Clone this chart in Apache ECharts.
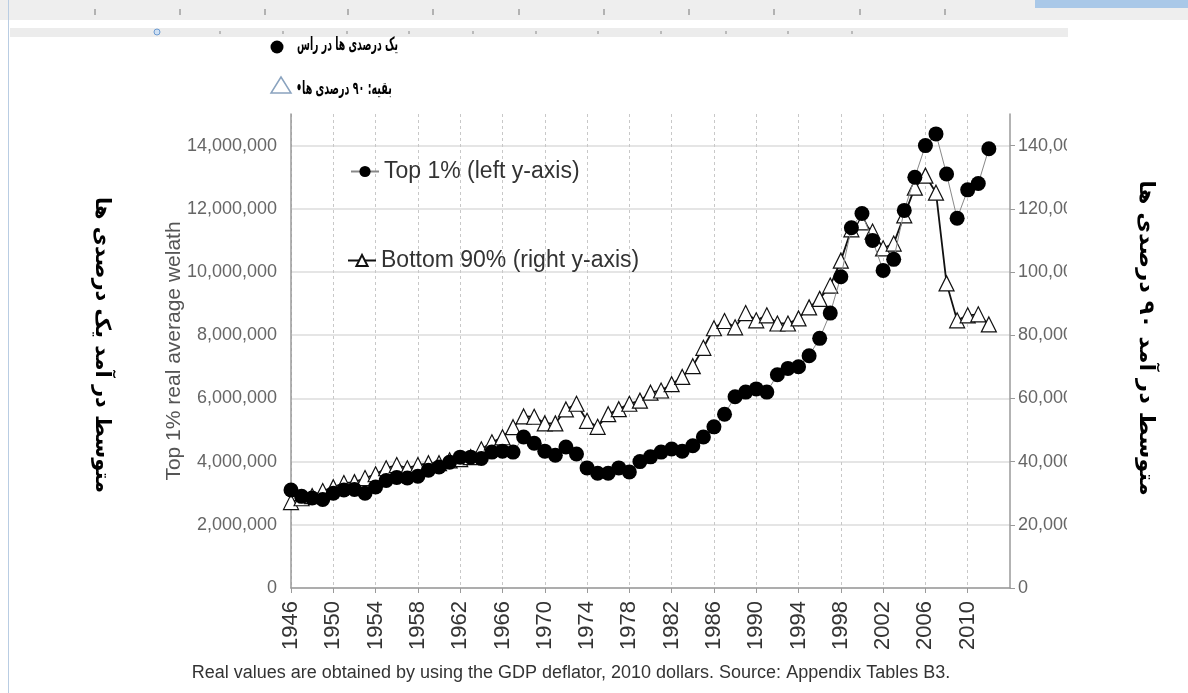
<!DOCTYPE html>
<html lang="en">
<head>
    <meta charset="UTF-8">
    <title>Top 1% vs Bottom 90% real average wealth</title>
    <script src="https://cdn.jsdelivr.net/npm/echarts@6/dist/echarts.min.js"></script>
    <style>
        *{
            margin: 0;
            padding: 0;
        }
        body{
            background: #fff;
        }
        #chart{
            width: 1188px;
            height: 693px;
        }
    </style>
</head>
<body>
    <div id="chart"></div>
    <script type="text/javascript">
        // years on the x axis (axis runs two years past the data)
        var years = ['1946','1947','1948','1949','1950','1951','1952','1953','1954','1955',
            '1956','1957','1958','1959','1960','1961','1962','1963','1964','1965',
            '1966','1967','1968','1969','1970','1971','1972','1973','1974','1975',
            '1976','1977','1978','1979','1980','1981','1982','1983','1984','1985',
            '1986','1987','1988','1989','1990','1991','1992','1993','1994','1995',
            '1996','1997','1998','1999','2000','2001','2002','2003','2004','2005',
            '2006','2007','2008','2009','2010','2011','2012','2013','2014'];

        // top 1% average wealth, left axis
        var top1 = [3100000,2900000,2850000,2800000,3000000,3100000,3120000,3000000,3200000,3400000,
            3500000,3480000,3540000,3730000,3830000,3980000,4140000,4140000,4100000,4300000,
            4330000,4300000,4780000,4580000,4330000,4200000,4460000,4240000,3800000,3630000,
            3630000,3800000,3670000,4000000,4150000,4300000,4400000,4330000,4500000,4780000,
            5100000,5500000,6050000,6200000,6300000,6200000,6750000,6950000,7000000,7350000,
            7900000,8700000,9850000,11400000,11850000,11000000,10050000,10400000,11950000,13000000,
            14000000,14370000,13100000,11700000,12600000,12800000,13900000];

        // bottom 90% average wealth, right axis
        var bottom90 = [27200,28400,29100,30700,31900,33200,33500,34800,36000,37900,
            38900,37900,38900,39500,39500,40400,40800,41400,43900,46100,
            47700,50900,54300,54200,52100,52100,56500,58300,52900,51000,
            55000,56600,58300,59300,61800,62500,64500,66800,70200,76000,
            82200,84500,82500,87000,84700,86300,83700,83700,85300,88800,
            91500,95700,103600,113500,115700,112800,107500,109000,117900,126700,
            130500,125100,96400,84700,86300,86600,83400];

        var topName = 'Top 1% (left y-axis)';
        var bottomName = 'Bottom 90% (right y-axis)';
        var note = 'Real values are obtained by using the GDP deflator, 2010 dollars. Source: Appendix Tables B3.';

        // tick marks of the window rulers above the chart
        var rulerTicks = [95, 180, 265, 348, 433, 519, 604, 689, 774, 860, 945];
        var rulerTicks2 = [220, 283, 347, 409, 473, 536, 598, 661, 726, 788, 852];

        var chart = echarts.init(document.getElementById('chart'));

        function everyFour(index){
            return index % 4 === 0 && index <= 64;
        }

        function fmt(v){
            return v.toLocaleString('en-US');
        }

        var faFont = 'bold 18px "DejaVu Sans"';
        var faBig = 'bold 21px "DejaVu Sans"';

        var graphics = [
            // clip of the right tick labels
            { type: 'rect', z: 100, shape: { x: 1067, y: 110, width: 40, height: 490 }, style: { fill: '#fff' } },
            // window ruler strips at the top
            { type: 'rect', z: 100, shape: { x: 0, y: 0, width: 1188, height: 20 }, style: { fill: '#eeeeee' } },
            { type: 'rect', z: 101, shape: { x: 1035, y: 0, width: 153, height: 8 }, style: { fill: '#a9c8e8' } },
            { type: 'rect', z: 100, shape: { x: 10, y: 28, width: 1058, height: 9 }, style: { fill: '#ececec' } },
            { type: 'rect', z: 100, shape: { x: 8, y: 0, width: 1, height: 693 }, style: { fill: '#b9cde3' } },
            { type: 'circle', z: 101, shape: { cx: 157, cy: 32, r: 3 }, style: { fill: '#cfe0f3', stroke: '#6d9bd1' } },
            // persian legend at the top
            { type: 'circle', z: 100, shape: { cx: 277, cy: 47, r: 6.5 }, style: { fill: '#000' } },
            { type: 'text', z: 100, x: 297, y: 45, scaleX: 0.52, style: { text: 'یک درصدی ها در راس', font: faFont, fill: '#000', align: 'left', verticalAlign: 'middle' } },
            { type: 'polygon', z: 100, shape: { points: [[281, 77], [271, 93], [291, 93]] }, style: { fill: '#fff', stroke: '#8aa3bf', lineWidth: 1.5 } },
            { type: 'text', z: 100, x: 296, y: 89, scaleX: 0.53, style: { text: '•بقیه: ۹۰ درصدی ها', font: faFont, fill: '#000', align: 'left', verticalAlign: 'middle' } },
            // persian axis titles
            { type: 'text', z: 100, x: 101, y: 345, rotation: -Math.PI / 2, style: { text: 'متوسط در آمد یک درصدی ها', font: faBig, fill: '#000', align: 'center', verticalAlign: 'middle' } },
            { type: 'text', z: 100, x: 1145, y: 338, rotation: -Math.PI / 2, scaleX: 1.08, style: { text: 'متوسط در آمد ۹۰ درصدی ها', font: faBig, fill: '#000', align: 'center', verticalAlign: 'middle' } },
            // source note
            { type: 'text', z: 100, x: 571, y: 673, style: { text: note, font: '18px "Liberation Sans", Arial, sans-serif', fill: '#333', align: 'center', verticalAlign: 'middle' } }
        ];
        rulerTicks.forEach(function(x){
            graphics.push({ type: 'line', z: 101, shape: { x1: x, y1: 9, x2: x, y2: 15 }, style: { stroke: '#777', lineWidth: 1 } });
        });
        rulerTicks2.forEach(function(x){
            graphics.push({ type: 'line', z: 101, shape: { x1: x, y1: 31, x2: x, y2: 34 }, style: { stroke: '#888', lineWidth: 1 } });
        });

        var option = {
            backgroundColor: '#fff',
            animation: false,
            textStyle: {
                fontFamily: '"Liberation Sans", Arial, sans-serif'
            },
            grid: {
                left: 291,
                right: 178,
                top: 114,
                bottom: 105
            },
            legend: [{
                data: [topName],
                left: 345,
                top: 155,
                itemWidth: 28,
                itemHeight: 14,
                itemGap: 6,
                textStyle: { fontSize: 23, color: '#333' }
            }, {
                data: [bottomName],
                left: 342,
                top: 244,
                itemWidth: 28,
                itemHeight: 14,
                textStyle: { fontSize: 23, color: '#333' }
            }],
            xAxis: {
                type: 'category',
                data: years,
                boundaryGap: false,
                axisLine: { lineStyle: { color: '#9a9a9a', width: 1.5 } },
                axisTick: { interval: everyFour, length: 5, lineStyle: { color: '#9a9a9a' } },
                axisLabel: {
                    interval: everyFour,
                    rotate: 90,
                    fontSize: 22,
                    color: '#333',
                    margin: 13
                },
                splitLine: {
                    show: true,
                    interval: everyFour,
                    lineStyle: { color: '#c8c8c8', type: [3, 3], width: 1 }
                }
            },
            yAxis: [{
                type: 'value',
                min: 0,
                max: 15000000,
                interval: 2000000,
                name: 'Top 1% real average welath',
                nameLocation: 'middle',
                nameGap: 106,
                nameMoveOverlap: false,
                nameTextStyle: { fontSize: 21, color: '#555' },
                axisLine: { show: true, lineStyle: { color: '#9a9a9a', width: 1.5 } },
                axisTick: { show: false },
                axisLabel: {
                    fontSize: 18,
                    color: '#666',
                    margin: 14,
                    showMaxLabel: false,
                    formatter: fmt
                },
                splitLine: {
                    showMaxLine: false,
                    lineStyle: { color: '#dcdcdc', width: 1.5 }
                }
            }, {
                type: 'value',
                min: 0,
                max: 150000,
                interval: 20000,
                position: 'right',
                axisLine: { show: true, lineStyle: { color: '#9a9a9a', width: 1.5 } },
                axisTick: { show: true, length: 5, lineStyle: { color: '#9a9a9a' } },
                axisLabel: {
                    fontSize: 18,
                    color: '#666',
                    margin: 8,
                    showMaxLabel: false,
                    formatter: fmt
                },
                splitLine: { show: false }
            }],
            series: [{
                name: bottomName,
                type: 'line',
                yAxisIndex: 1,
                data: bottom90,
                symbol: 'triangle',
                symbolSize: 15,
                showAllSymbol: true,
                itemStyle: { color: '#fff', borderColor: '#111', borderWidth: 1.2 },
                lineStyle: { color: '#111', width: 1.8 },
                z: 2
            }, {
                name: topName,
                type: 'line',
                yAxisIndex: 0,
                data: top1,
                symbol: 'circle',
                symbolSize: 15,
                showAllSymbol: true,
                itemStyle: { color: '#000' },
                lineStyle: { color: '#888', width: 1 },
                z: 3
            }],
            graphic: graphics
        };

        chart.setOption(option);
    </script>
</body>
</html>
